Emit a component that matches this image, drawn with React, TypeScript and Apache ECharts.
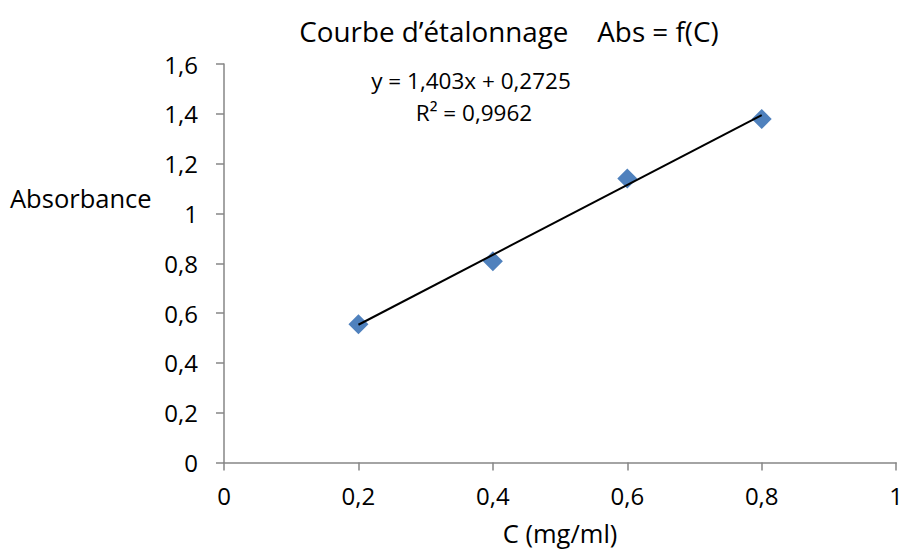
import React, { useEffect, useRef } from "react";
import * as echarts from "echarts";

const concentrations = [0.2, 0.4, 0.6, 0.8];
const absorbances = [0.555, 0.808, 1.14, 1.379];
const slope = 1.403;
const intercept = 0.2725;
const rSquared = "0,9962";
const titleText = "Courbe d\u2019étalonnage    Abs = f(C)";
const xName = "C (mg/ml)";
const yName = "Absorbance";

const FONT = "'Open Sans', 'Noto Sans', sans-serif";
const fmt = (v: number) => String(Math.round(v * 10) / 10).replace(".", ",");

export default function App() {
  const ref = useRef<HTMLDivElement>(null);
  useEffect(() => {
    if (!ref.current) return;
    const chart = echarts.init(ref.current, undefined, { renderer: "svg" });
    const xs = [concentrations[0], concentrations[concentrations.length - 1]];
    const trend = xs.map((x) => [x, slope * x + intercept]);
    const eq = `y = ${String(slope).replace(".", ",")}x + ${String(intercept).replace(".", ",")}`;
    chart.setOption({
      animation: false,
      backgroundColor: "#ffffff",
      textStyle: { fontFamily: FONT },
      title: {
        text: titleText,
        left: 504,
        textAlign: "center",
        top: 12,
        textStyle: { fontFamily: FONT, fontSize: 27.8, fontWeight: "normal", color: "#000" },
      },
      grid: { left: 224, right: 8, top: 64, bottom: 93.5, containLabel: false },
      xAxis: {
        type: "value",
        min: 0,
        max: 1,
        interval: 0.2,
        name: xName,
        nameLocation: "middle",
        nameGap: 57,
        nameTextStyle: { fontFamily: FONT, fontSize: 25.5, color: "#000" },
        axisLine: { show: true, lineStyle: { color: "#868686", width: 1.5 } },
        axisTick: { show: true, inside: false, length: 8, lineStyle: { color: "#868686", width: 1.5 } },
        axisLabel: { formatter: fmt, fontFamily: FONT, fontSize: 24, color: "#000", margin: 21 },
        splitLine: { show: false },
      },
      yAxis: {
        type: "value",
        min: 0,
        max: 1.6,
        interval: 0.2,
        axisLine: { show: true, lineStyle: { color: "#868686", width: 1.5 } },
        axisTick: { show: true, inside: false, length: 8, lineStyle: { color: "#868686", width: 1.5 } },
        axisLabel: { formatter: fmt, fontFamily: FONT, fontSize: 24, color: "#000", margin: 26 },
        splitLine: { show: false },
      },
      graphic: [
        {
          type: "text",
          x: 10,
          y: 198,
          style: { text: yName, font: `25.5px ${FONT}`, fill: "#000", textVerticalAlign: "middle" },
        },
        {
          type: "text",
          x: 471,
          y: 80,
          style: { text: eq, font: `22.5px ${FONT}`, fill: "#000", textAlign: "center", textVerticalAlign: "middle" },
        },
        {
          type: "text",
          x: 474,
          y: 112,
          style: { text: `R² = ${rSquared}`, font: `22.5px ${FONT}`, fill: "#000", textAlign: "center", textVerticalAlign: "middle" },
        },
      ],
      series: [
        {
          type: "scatter",
          data: concentrations.map((c, i) => [c, absorbances[i]]),
          symbol: "diamond",
          symbolSize: [20, 20],
          itemStyle: { color: "#4F81BD", opacity: 1 },
          z: 2,
        },
        {
          type: "line",
          data: trend,
          symbol: "none",
          lineStyle: { color: "#000", width: 2 },
          z: 3,
        },
      ],
    });
    return () => chart.dispose();
  }, []);
  return <div ref={ref} style={{ position: "fixed", left: 0, top: 0, width: 906, height: 556 }} />;
}
